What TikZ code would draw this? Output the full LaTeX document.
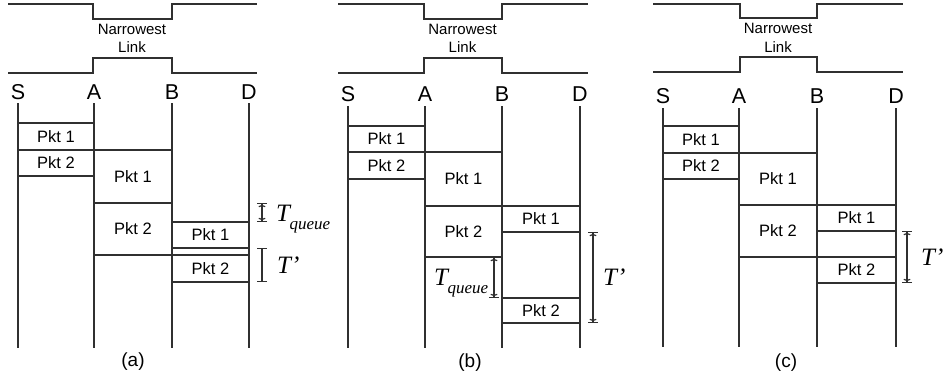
\documentclass[tikz,border=0pt]{standalone}
\usepackage{fontspec}
\setmainfont{Liberation Sans}
\newfontfamily\serif{Liberation Serif}
\usetikzlibrary{arrows.meta}
\definecolor{ln}{HTML}{303030}
\tikzset{
  x=1pt, y=-1pt,
  wire/.style={draw=ln, line width=1.9pt},
  linkline/.style={draw=ln, line width=1.7pt},
  pkt/.style={draw=ln, line width=1.5pt, inner sep=0pt, font=\fontsize{16.5}{18}\selectfont},
  host/.style={font=\fontsize{21.5}{24}\selectfont, inner sep=0pt},
  nlabel/.style={font=\fontsize{15}{17}\selectfont, inner sep=0pt},
  panelcap/.style={font=\fontsize{19}{21}\selectfont, inner sep=0pt},
  tlab/.style={font=\serif\itshape\fontsize{25}{27}\selectfont, inner sep=0pt, anchor=base west},
  dimarr/.style={draw=ln, line width=1.2pt,
    arrows={{Bar[width=10pt] To[length=3pt,width=7pt]}-{To[length=3pt,width=7pt] Bar[width=10pt]}}},
  dimbar/.style={draw=ln, line width=1.2pt, arrows={Bar[width=10pt]-Bar[width=10pt]}},
}
\newcommand\pkbox[6]{\node[pkt, minimum width={(#4-#2)*1pt}, minimum height={(#5-#3)*1pt}]
  (#1) at ({(#2+#4)/2},{(#3+#5)/2}) {#6};}
\newcommand\tq{T\kern-0.5pt\raisebox{-8pt}{\fontsize{17}{17}\selectfont queue}}
\begin{document}
\begin{tikzpicture}
\useasboundingbox (0,0) rectangle (944,380);

% ================= panel (a) =================
\draw[linkline] (8,4) -- (93,4) -- (93,19) -- (172,19) -- (172,4) -- (257,4);
\draw[linkline] (8,73) -- (93,73) -- (93,58) -- (172,58) -- (172,73) -- (257,73);
\node[nlabel] (aN) at (132,29) {Narrowest};
\node[nlabel] (aL) at (132,47.5) {Link};
\node[host] (aS) at (18,92) {S};
\node[host] (aA) at (94,92) {A};
\node[host] (aB) at (172,92) {B};
\node[host] (aD) at (249,92) {D};
\coordinate (aS1) at (18,103); \coordinate (aS2) at (18,348);
\coordinate (aA1) at (94,103); \coordinate (aA2) at (94,348);
\coordinate (aB1) at (172,103); \coordinate (aB2) at (172,348);
\coordinate (aD1) at (249,103); \coordinate (aD2) at (249,348);
\draw[wire] (aS1) -- (aS2);
\draw[wire] (aA1) -- (aA2);
\draw[wire] (aB1) -- (aB2);
\draw[wire] (aD1) -- (aD2);
\pkbox{aP1}{18}{123}{94}{150}{Pkt 1}
\pkbox{aP2}{18}{150}{94}{176}{Pkt 2}
\pkbox{aQ1}{94}{150}{172}{203}{Pkt 1}
\pkbox{aQ2}{94}{203}{172}{255}{Pkt 2}
\pkbox{aR1}{172}{222}{249}{248}{Pkt 1}
\pkbox{aR2}{172}{255}{249}{282}{Pkt 2}
\coordinate (aT1) at (262,203); \coordinate (aT2) at (262,222);
\draw[dimarr] (aT1) -- (aT2);
\node[tlab] (aTq) at (276,221) {\tq};
\coordinate (aU1) at (262,248); \coordinate (aU2) at (262,282);
\draw[dimbar] (aU1) -- (aU2);
\node[tlab] (aTp) at (277,273) {T’};
\node[panelcap] (aCap) at (133,362) {(a)};

% ================= panel (b) =================
\draw[linkline] (338,4) -- (424,4) -- (424,19) -- (502,19) -- (502,4) -- (588,4);
\draw[linkline] (338,73) -- (424,73) -- (424,58) -- (502,58) -- (502,73) -- (588,73);
\node[nlabel] (bN) at (462.5,29) {Narrowest};
\node[nlabel] (bL) at (462.5,47.5) {Link};
\node[host] (bS) at (348,94) {S};
\node[host] (bA) at (425,94) {A};
\node[host] (bB) at (502,94) {B};
\node[host] (bD) at (580,94) {D};
\coordinate (bS1) at (348,106); \coordinate (bS2) at (348,348);
\coordinate (bA1) at (425,106); \coordinate (bA2) at (425,348);
\coordinate (bB1) at (502,106); \coordinate (bB2) at (502,348);
\coordinate (bD1) at (580,106); \coordinate (bD2) at (580,348);
\draw[wire] (bS1) -- (bS2);
\draw[wire] (bA1) -- (bA2);
\draw[wire] (bB1) -- (bB2);
\draw[wire] (bD1) -- (bD2);
\pkbox{bP1}{348}{126}{425}{152}{Pkt 1}
\pkbox{bP2}{348}{152}{425}{179}{Pkt 2}
\pkbox{bQ1}{425}{152}{502}{206}{Pkt 1}
\pkbox{bQ2}{425}{206}{502}{257}{Pkt 2}
\pkbox{bR1}{502}{206}{580}{232}{Pkt 1}
\pkbox{bR2}{502}{298}{580}{323}{Pkt 2}
\coordinate (bT1) at (494,257); \coordinate (bT2) at (494,298);
\draw[dimarr] (bT1) -- (bT2);
\node[tlab] (bTq) at (434,285) {\tq};
\coordinate (bU1) at (593,232); \coordinate (bU2) at (593,323);
\draw[dimarr] (bU1) -- (bU2);
\node[tlab] (bTp) at (603,285) {T’};
\node[panelcap] (bCap) at (470,363) {(b)};

% ================= panel (c) =================
\draw[linkline] (653,4) -- (740,4) -- (740,18) -- (817,18) -- (817,4) -- (903,4);
\draw[linkline] (653,72) -- (740,72) -- (740,57) -- (817,57) -- (817,72) -- (903,72);
\node[nlabel] (cN) at (778,28.5) {Narrowest};
\node[nlabel] (cL) at (778,47) {Link};
\node[host] (cS) at (663,96) {S};
\node[host] (cA) at (739,96) {A};
\node[host] (cB) at (817,96) {B};
\node[host] (cD) at (896,96) {D};
\coordinate (cS1) at (663,108); \coordinate (cS2) at (663,347);
\coordinate (cA1) at (739,108); \coordinate (cA2) at (739,347);
\coordinate (cB1) at (817,108); \coordinate (cB2) at (817,347);
\coordinate (cD1) at (896,108); \coordinate (cD2) at (896,347);
\draw[wire] (cS1) -- (cS2);
\draw[wire] (cA1) -- (cA2);
\draw[wire] (cB1) -- (cB2);
\draw[wire] (cD1) -- (cD2);
\pkbox{cP1}{663}{126}{739}{153}{Pkt 1}
\pkbox{cP2}{663}{153}{739}{179}{Pkt 2}
\pkbox{cQ1}{739}{153}{817}{205}{Pkt 1}
\pkbox{cQ2}{739}{205}{817}{257}{Pkt 2}
\pkbox{cR1}{817}{205}{896}{231}{Pkt 1}
\pkbox{cR2}{817}{257}{896}{283}{Pkt 2}
\coordinate (cU1) at (907,231); \coordinate (cU2) at (907,283);
\draw[dimarr] (cU1) -- (cU2);
\node[tlab] (cTp) at (921,265) {T’};
\node[panelcap] (cCap) at (786,363) {(c)};
\end{tikzpicture}
\end{document}
